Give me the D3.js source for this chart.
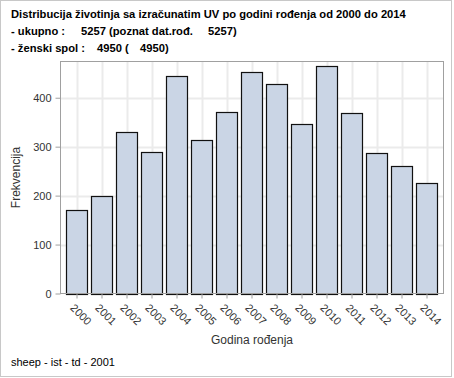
<!DOCTYPE html>
<html>
<head>
<meta charset="utf-8">
<script src="https://cdn.jsdelivr.net/npm/d3@7"></script>
<style>
  body { margin: 0; background: #fff; }
  text { font-family: "Liberation Sans", Arial, sans-serif; }
</style>
</head>
<body>
<div class="svg-container"></div>
<script>
var years = ["2000","2001","2002","2003","2004","2005","2006","2007","2008","2009","2010","2011","2012","2013","2014"];
var counts = [170, 199, 330, 289, 444, 313, 371, 452, 428, 346, 465, 369, 288, 261, 226];
var yTicks = [0, 100, 200, 300, 400];
var titleLines = [
    ["Distribucija životinja sa izračunatim UV po godini rođenja od 2000 do 2014"],
    ["- ukupno :", "5257 (poznat dat.rođ.", "5257)"],
    ["- ženski spol :", "4950 (", "4950)"]
];
var titleX = [[11], [11, 81, 208], [11, 97, 140]];

var width = 454;
var height = 378;
var plot = {left: 60.5, right: 443.5, top: 61.5, bottom: 293.5};

var svg = d3.select(".svg-container").append("svg")
    .attr("width", width)
    .attr("height", height);

// outer border
svg.append("rect")
    .attr("x", 0.5).attr("y", 0.5)
    .attr("width", 451).attr("height", 376)
    .attr("fill", "#fff")
    .attr("stroke", "#c8c8c8");

// titles
titleLines.forEach(function(parts, i) {
    var t = svg.append("text")
        .attr("y", 17.5 + i * 17)
        .style("font-size", "11.2px")
        .style("font-weight", "bold")
        .attr("fill", "#000");
    parts.forEach(function(p, j) {
        t.append("tspan").attr("x", titleX[i][j]).text(p);
    });
});

var x = d3.scaleBand()
    .domain(years)
    .range([plot.left + 4, plot.right - 4])
    .paddingInner(0.14)
    .paddingOuter(0.07);

var y = d3.scaleLinear()
    .domain([0, 474])
    .range([plot.bottom, plot.top]);

// grid
svg.append("g")
    .selectAll("line.h")
    .data(yTicks.slice(1))
    .enter().append("line")
    .attr("x1", plot.left).attr("x2", plot.right)
    .attr("y1", function(d) { return Math.round(y(d)) + 0.5; })
    .attr("y2", function(d) { return Math.round(y(d)) + 0.5; })
    .attr("stroke", "#ebebeb").attr("stroke-width", 2);

svg.append("g")
    .selectAll("line.v")
    .data(years)
    .enter().append("line")
    .attr("y1", plot.top).attr("y2", plot.bottom)
    .attr("x1", function(d) { return Math.round(x(d) + x.bandwidth()/2) + 0.5; })
    .attr("x2", function(d) { return Math.round(x(d) + x.bandwidth()/2) + 0.5; })
    .attr("stroke", "#ebebeb").attr("stroke-width", 2);

// bars
svg.append("g")
    .selectAll("rect")
    .data(counts)
    .enter().append("rect")
    .attr("x", function(d, i) { return Math.round(x(years[i])) + 0.5; })
    .attr("y", function(d) { return Math.round(y(d)) + 0.5; })
    .attr("width", Math.round(x.bandwidth()) - 1)
    .attr("height", function(d) { return Math.round(y(0)) - Math.round(y(d)); })
    .attr("fill", "#cad5e5")
    .attr("stroke", "#111")
    .attr("stroke-width", 1.2);

// frame
svg.append("rect")
    .attr("x", plot.left).attr("y", plot.top)
    .attr("width", plot.right - plot.left)
    .attr("height", plot.bottom - plot.top)
    .attr("fill", "none")
    .attr("stroke", "#a0a0a0");

// Y axis
var yAxis = svg.append("g")
    .attr("transform", "translate(" + plot.left + ",0)")
    .call(d3.axisLeft(y).tickValues(yTicks).tickSize(5).tickPadding(4));
yAxis.select(".domain").remove();
yAxis.selectAll(".tick line").attr("stroke", "#a0a0a0");
yAxis.selectAll(".tick text")
    .style("font-size", "11px")
    .attr("fill", "#333");

// X axis
var xAxis = svg.append("g")
    .attr("transform", "translate(0," + plot.bottom + ")")
    .call(d3.axisBottom(x).tickSize(5));
xAxis.select(".domain").remove();
xAxis.selectAll(".tick line").attr("stroke", "#a0a0a0");
xAxis.selectAll(".tick text")
    .style("font-size", "11px")
    .attr("fill", "#333")
    .attr("text-anchor", "middle")
    .attr("dy", "0.35em")
    .attr("y", 0)
    .attr("transform", "translate(4,21) rotate(45)");

// axis labels
svg.append("text")
    .attr("x", (plot.left + plot.right) / 2)
    .attr("y", 344)
    .style("text-anchor", "middle")
    .style("font-size", "12px")
    .attr("fill", "#333")
    .text("Godina rođenja");

svg.append("text")
    .attr("transform", "rotate(-90)")
    .attr("x", -(plot.top + plot.bottom) / 2)
    .attr("y", 20)
    .style("text-anchor", "middle")
    .style("font-size", "12px")
    .attr("fill", "#333")
    .text("Frekvencija");

// footnote
svg.append("text")
    .attr("x", 11)
    .attr("y", 366)
    .style("font-size", "11px")
    .attr("fill", "#000")
    .text("sheep - ist - td - 2001");
</script>
</body>
</html>
